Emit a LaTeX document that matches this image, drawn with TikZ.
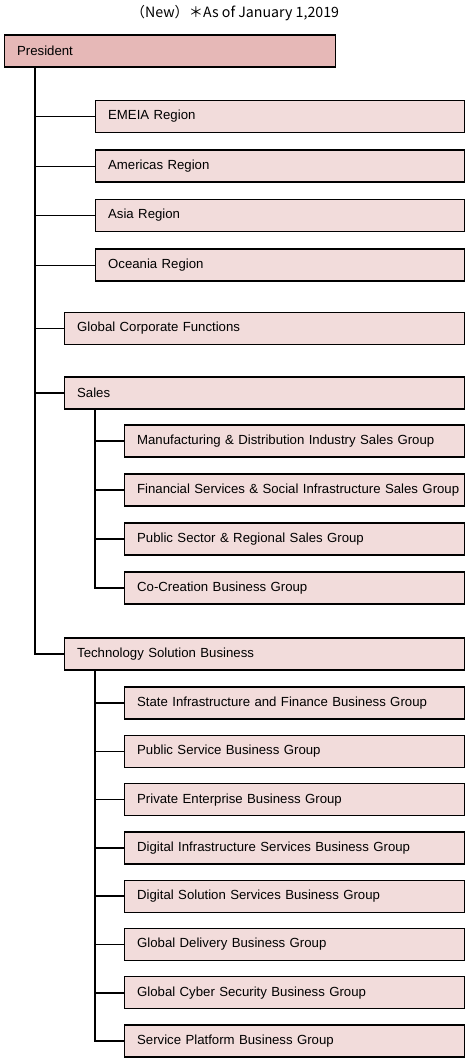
\documentclass[tikz,border=0pt]{standalone}
\usepackage{fontspec}
\setmainfont{Liberation Sans}
\newfontfamily\cjk{Noto Sans CJK JP}
\definecolor{presfill}{HTML}{E6B8B7}
\definecolor{boxfill}{HTML}{F2DCDB}
\begin{document}
\begin{tikzpicture}[x=1pt,y=-1pt,
  orgbox/.style={draw=black, line width=1.3pt, fill=boxfill, anchor=west,
    minimum height=32pt, inner xsep=12.5pt, inner ysep=0pt, align=left,
    font=\fontsize{13.2}{15}\selectfont},
  w1/.style={orgbox, text width=#1-25pt},
  thick line/.style={line width=1.5pt},
  thin line/.style={line width=0.9pt}]
\useasboundingbox (0,0) rectangle (467,1059);
\node[font=\cjk\fontsize{14.2}{16}\selectfont] (title) at (235,13) {（New）＊As of January 1,2019};
\node[w1=331pt, fill=presfill] (pres) at (4,51) {President};
\node[w1=369pt] (emeia) at (95,116.5) {EMEIA Region};
\node[w1=369pt] (amer) at (95,166) {Americas Region};
\node[w1=369pt] (asia) at (95,215.5) {Asia Region};
\node[w1=369pt] (ocea) at (95,265) {Oceania Region};
\node[w1=400pt] (gcf) at (64,328.5) {Global Corporate Functions};
\node[w1=400pt] (sales) at (64,393) {Sales};
\node[w1=340pt] (mfg) at (124,441) {Manufacturing \& Distribution Industry Sales Group};
\node[w1=340pt] (fin) at (124,490) {\mbox{Financial Services \& Social Infrastructure Sales Group}};
\node[w1=340pt] (pub) at (124,539) {Public Sector \& Regional Sales Group};
\node[w1=340pt] (cocr) at (124,588) {Co-Creation Business Group};
\node[w1=400pt] (tech) at (64,654) {Technology Solution Business};
\node[w1=340pt] (state) at (124,703) {State Infrastructure and Finance Business Group};
\node[w1=340pt] (pser) at (124,751.3) {Public Service Business Group};
\node[w1=340pt] (priv) at (124,799.6) {Private Enterprise Business Group};
\node[w1=340pt] (dinf) at (124,848) {Digital Infrastructure Services Business Group};
\node[w1=340pt] (dsol) at (124,896.2) {Digital Solution Services Business Group};
\node[w1=340pt] (gdel) at (124,944.5) {Global Delivery Business Group};
\node[w1=340pt] (gcyb) at (124,992.8) {Global Cyber Security Business Group};
\node[w1=340pt] (splat) at (124,1041) {Service Platform Business Group};
\coordinate (ptr) at (35,67);
\coordinate (str) at (95,409);
\coordinate (ttr) at (95,670);
\draw[thick line] (ptr) |- (tech.west);
\draw[thick line] (emeia.west) -- (emeia.west -| ptr);
\draw[thin line] (amer.west) -- (amer.west -| ptr);
\draw[thin line] (asia.west) -- (asia.west -| ptr);
\draw[thin line] (ocea.west) -- (ocea.west -| ptr);
\draw[thin line] (gcf.west) -- (gcf.west -| ptr);
\draw[thick line] (sales.west) -- (sales.west -| ptr);
\draw[thick line] (str) |- (cocr.west);
\draw[thick line] (mfg.west) -- (mfg.west -| str);
\draw[thick line] (fin.west) -- (fin.west -| str);
\draw[thick line] (pub.west) -- (pub.west -| str);
\draw[thick line] (ttr) |- (splat.west);
\draw[thick line] (state.west) -- (state.west -| ttr);
\draw[thick line] (pser.west) -- (pser.west -| ttr);
\draw[thick line] (priv.west) -- (priv.west -| ttr);
\draw[thick line] (dinf.west) -- (dinf.west -| ttr);
\draw[thick line] (dsol.west) -- (dsol.west -| ttr);
\draw[thick line] (gdel.west) -- (gdel.west -| ttr);
\draw[thick line] (gcyb.west) -- (gcyb.west -| ttr);
\end{tikzpicture}
\end{document}
